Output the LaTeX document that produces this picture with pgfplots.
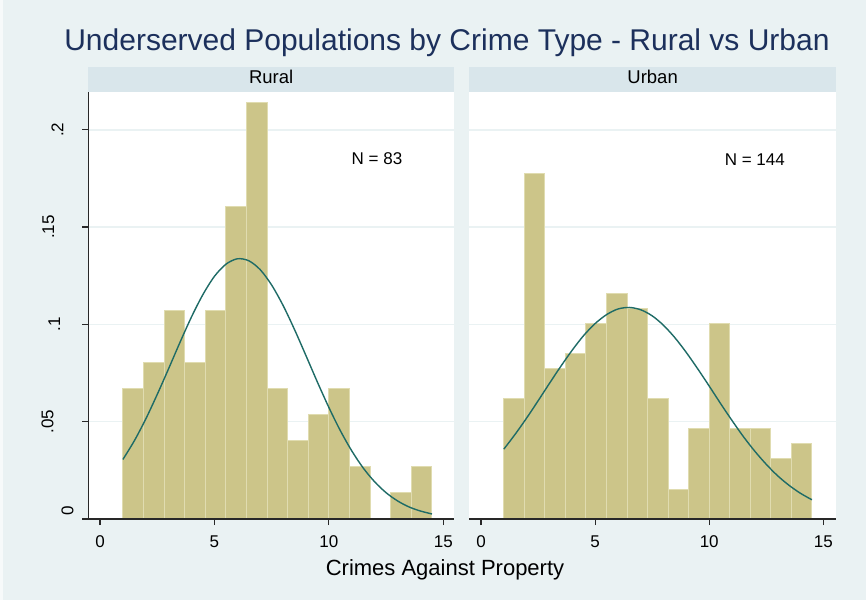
\documentclass[border=0pt]{standalone}
\usepackage{pgfplots}
\pgfplotsset{compat=1.18}
\usepackage{fontspec}
\setmainfont{Liberation Sans}
\definecolor{bgc}{RGB}{234,242,243}
\definecolor{stripc}{RGB}{217,230,235}
\definecolor{barc}{RGB}{204,197,137}
\definecolor{barl}{RGB}{224,220,176}
\definecolor{curvec}{RGB}{30,107,102}
\definecolor{titlec}{RGB}{28,48,92}
\definecolor{axc}{RGB}{40,40,40}
\definecolor{gridc}{RGB}{234,242,243}
\pgfplotsset{
  panel/.style={
    scale only axis, height=427pt, ymin=0, ymax=0.2194,
    axis background/.style={fill=white},
    axis x line*=bottom, axis y line*=left,
    axis line style={axc, line width=1.2pt},
    tick align=outside, major tick length=6pt,
    tick style={axc, line width=1.2pt},
    xtick={0,5,10,15}, ytick={0,0.05,0.1,0.15,0.2},
    ymajorgrids, grid style={gridc, line width=1.5pt},
    ticklabel style={font=\fontsize{17}{20}\selectfont},
    xticklabel style={anchor=base, inner sep=0pt, yshift=-22pt},
    /pgf/number format/assume math mode=true,
  },
  bars/.style={ybar interval, fill=barc, draw=barl, line width=1pt},
  dens/.style={smooth, color=curvec, line width=1.4pt},
}
\begin{document}
\begin{tikzpicture}
\fill[bgc] (0,0) rectangle (866pt,600pt);
\fill[white!60!bgc] (0,0) rectangle (3pt,600pt);
\useasboundingbox (0,0) rectangle (866pt,600pt);
% strips
\fill[stripc] (88.3pt,508pt) rectangle (454pt,533pt);
\fill[stripc] (469.3pt,508pt) rectangle (836pt,533pt);
\node[anchor=base, inner sep=0pt, font=\fontsize{18.5}{22}\selectfont] at (271.2pt,516pt) {Rural};
\node[anchor=base, inner sep=0pt, font=\fontsize{18.5}{22}\selectfont] at (652.6pt,516pt) {Urban};
% title and x label
\node[anchor=base, inner sep=0pt, text=titlec, font=\fontsize{30}{34}\selectfont] at (447pt,549.5pt) {Underserved Populations by Crime Type - Rural vs Urban};
\node[anchor=base, inner sep=0pt, font=\fontsize{22}{25}\selectfont] at (445pt,25pt) {Crimes Against Property};

\begin{axis}[panel, at={(88.3pt,81pt)}, anchor=south west, width=365.7pt,
  xmin=-0.511, xmax=15.466,
  yticklabels={\raisebox{-10pt}[0pt][0pt]{\hspace*{16pt}0},\raisebox{10pt}[0pt][0pt]{.05},\raisebox{3.3pt}[0pt][0pt]{.1},\raisebox{9.3pt}[0pt][0pt]{.15},.2},
  yticklabel style={rotate=90, anchor=base, inner sep=0pt, yshift=19pt}]
\addplot[bars] coordinates {(1,0.0669) (1.9,0.0803) (2.8,0.1071) (3.7,0.0803) (4.6,0.1071) (5.5,0.1606) (6.4,0.2142) (7.3,0.0669) (8.2,0.0402) (9.1,0.0535) (10,0.0669) (10.9,0.0268) (11.8,0)};
\addplot[bars] coordinates {(12.7,0.0134) (13.6,0.0268) (14.5,0)};
\addplot[dens] coordinates {(1,0.0306) (1.5,0.0402) (2,0.0514) (2.5,0.0640) (3,0.0773) (3.5,0.0909) (4,0.1039) (4.5,0.1154) (5,0.1247) (5.5,0.1309) (6,0.1337) (6.5,0.1327) (7,0.1281) (7.5,0.1202) (8,0.1097) (8.5,0.0973) (9,0.0839) (9.5,0.0703) (10,0.0573) (10.5,0.0454) (11,0.0350) (11.5,0.0262) (12,0.0191) (12.5,0.0135) (13,0.0093) (13.5,0.0062) (14,0.0041) (14.5,0.0026)};
\draw[axc, line width=1.2pt] (rel axis cs:0,0) -- (rel axis cs:1,0);
\node[anchor=base, inner sep=0pt, font=\fontsize{17}{20}\selectfont] at (axis cs:12.1,0.1819) {N = 83};
\end{axis}

\begin{axis}[panel, at={(469.3pt,81pt)}, anchor=south west, width=366.7pt,
  xmin=-0.513, xmax=15.557,
  y axis line style={draw=none}, ytick style={draw=none}, yticklabels={}]
\addplot[bars] coordinates {(1,0.0617) (1.9,0.1775) (2.8,0.0772) (3.7,0.0849) (4.6,0.1003) (5.5,0.1157) (6.4,0.1080) (7.3,0.0617) (8.2,0.0154) (9.1,0.0463) (10,0.1003) (10.9,0.0463) (11.8,0.0463) (12.7,0.0309) (13.6,0.0386) (14.5,0)};
\addplot[dens] coordinates {(1,0.0359) (1.5,0.0436) (2,0.0519) (2.5,0.0607) (3,0.0697) (3.5,0.0785) (4,0.0868) (4.5,0.0943) (5,0.1004) (5.5,0.1050) (6,0.1079) (6.5,0.1087) (7,0.1075) (7.5,0.1044) (8,0.0995) (8.5,0.0931) (9,0.0855) (9.5,0.0771) (10,0.0683) (10.5,0.0593) (11,0.0506) (11.5,0.0423) (12,0.0348) (12.5,0.0281) (13,0.0222) (13.5,0.0173) (14,0.0132) (14.5,0.0099)};
\draw[axc, line width=1.2pt] (rel axis cs:0,0) -- (rel axis cs:1,0);
\node[anchor=base, inner sep=0pt, font=\fontsize{17}{20}\selectfont] at (axis cs:12.0,0.1814) {N = 144};
\end{axis}
\end{tikzpicture}
\end{document}
